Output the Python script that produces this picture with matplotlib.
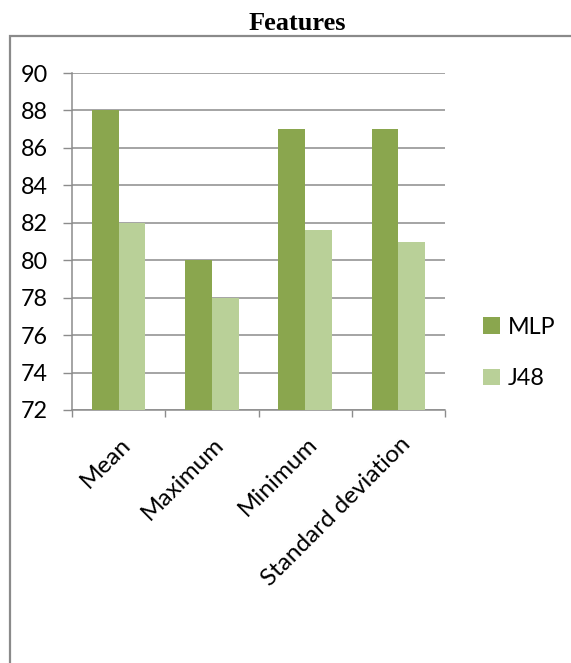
import numpy as np
import matplotlib.pyplot as plt
from matplotlib.patches import Rectangle
from matplotlib.transforms import ScaledTranslation

# data
categories = ["Mean", "Maximum", "Minimum", "Standard deviation"]
mlp = [88, 80, 87, 87]
j48 = [82, 78, 81.6, 81]
series_names = ["MLP", "J48"]

dark_green = "#8aa64e"
light_green = "#b9d098"
grid_grey = "#8c8c8c"

plt.rcParams["font.family"] = ["Lato", "DejaVu Sans"]

fig = plt.figure(figsize=(5.71, 6.63), dpi=100)
W, H = 571, 663

# outer frame of the chart (runs off the right and bottom edge)
fig.patches.append(Rectangle((10 / W, -0.1), 1.2, 1 - 36 / H + 0.1, transform=fig.transFigure,
                             fill=False, edgecolor="#8a8a8a", linewidth=1.6))

fig.text(297 / W, 1 - 24 / H, "Features", ha="center", va="center",
         family="Liberation Serif", fontweight="bold", fontsize=19)

ax = fig.add_axes([72 / W, 1 - 410 / H, 373 / W, 337 / H])

x = np.arange(len(categories))
bw = 1 / 3.5
ax.bar(x - bw / 2, mlp, bw, color=dark_green, label=series_names[0], zorder=3)
ax.bar(x + bw / 2, j48, bw, color=light_green, label=series_names[1], zorder=3)

ax.set_ylim(72, 90)
ax.set_xlim(-0.5, len(categories) - 0.5)
ax.set_yticks(np.arange(72, 91, 2))
ax.yaxis.grid(True, color=grid_grey, linewidth=1.1, zorder=0)
ax.tick_params(axis="y", length=6.5, width=1, color=grid_grey, labelsize=16.8, pad=11)

# ticks between categories, labels in the middle
ax.set_xticks(np.arange(len(categories) + 1) - 0.5)
ax.set_xticklabels([])
ax.set_xticks(x, minor=True)
ax.set_xticklabels(categories, minor=True, rotation=45, ha="right", va="top",
                   rotation_mode="anchor", fontsize=17.5)
ax.tick_params(axis="x", which="major", length=5, width=1, color=grid_grey)
ax.tick_params(axis="x", which="minor", length=0, pad=17)
shift = ScaledTranslation(1 / 100, 0, fig.dpi_scale_trans)
for lbl in ax.get_xticklabels(minor=True):
    lbl.set_transform(lbl.get_transform() + shift)

for s in ["top", "right"]:
    ax.spines[s].set_visible(False)
for s in ["left", "bottom"]:
    ax.spines[s].set_color(grid_grey)
    ax.spines[s].set_linewidth(1.1)

fig.legend(loc="center left", bbox_to_anchor=(483 / W, 1 - 353 / H), frameon=False,
           fontsize=16.8, handlelength=0.72, handleheight=0.72, handletextpad=0.35,
           labelspacing=1.3, borderaxespad=0, borderpad=0)

fig.savefig("out.png", dpi=100)
